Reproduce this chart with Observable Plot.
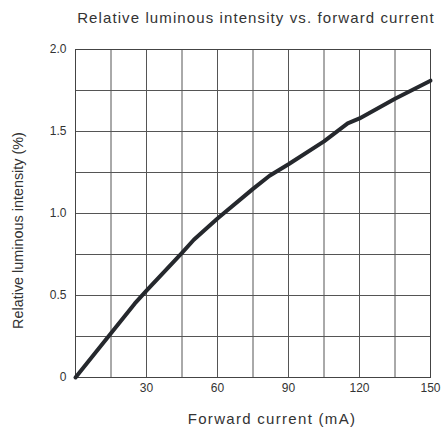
<!DOCTYPE html>
<html>
<head>
<meta charset="utf-8">
<script src="https://cdn.jsdelivr.net/npm/d3@7"></script>
<script src="https://cdn.jsdelivr.net/npm/@observablehq/plot@0.6"></script>
<style>
  html, body { margin: 0; padding: 0; background: #fff; }
  #chart svg { display: block; }
</style>
</head>
<body>
<div id="chart"></div>
<script>
const title = "Relative luminous intensity vs. forward current";
const xLabel = "Forward current (mA)";
const yLabel = "Relative luminous intensity (%)";

const current   = [0, 15, 25, 30, 45, 50, 60, 75, 82, 90, 105, 115, 120, 135, 150];
const intensity = [0, 0.27, 0.45, 0.53, 0.76, 0.84, 0.97, 1.15, 1.23, 1.30, 1.44, 1.55, 1.58, 1.70, 1.81];

const xTicks = [30, 60, 90, 120, 150];
const yTicks = [0, 0.5, 1.0, 1.5, 2.0];
const xGrid = [15, 30, 45, 60, 75, 90, 105, 120, 135];
const yGrid = [0.25, 0.5, 0.75, 1.0, 1.25, 1.5, 1.75];

const data = current.map((c, i) => ({current: c, intensity: intensity[i]}));

const chart = Plot.plot({
  width: 441,
  height: 430,
  marginLeft: 75,
  marginRight: 11,
  marginTop: 49,
  marginBottom: 53,
  style: {fontFamily: "'Liberation Sans', Arial, sans-serif", color: "#333", background: "#fff"},
  x: {domain: [0, 150]},
  y: {domain: [0, 2]},
  marks: [
    Plot.ruleX(xGrid, {stroke: "#555", strokeWidth: 1}),
    Plot.ruleY(yGrid, {stroke: "#555", strokeWidth: 1}),
    Plot.frame({stroke: "#444", strokeWidth: 1}),
    Plot.axisX({ticks: xTicks, tickSize: 0, tickPadding: 6, fontSize: 12,
      label: xLabel, labelAnchor: "center", labelArrow: "none", labelOffset: 46}),
    Plot.axisY({ticks: yTicks, tickSize: 0, tickPadding: 9, fontSize: 12,
      tickFormat: d => d === 0 ? "0" : d.toFixed(1),
      label: yLabel, labelAnchor: "center", labelArrow: "none", labelOffset: 63}),
    Plot.line(data, {x: "current", y: "intensity", stroke: "#25282d", strokeWidth: 4}),
    Plot.text([title], {frameAnchor: "top", dy: -37, dx: 3, fontSize: 15, fill: "#333"})
  ]
});
chart.querySelectorAll("g[aria-label='x-axis label'] text").forEach(t => {
  t.setAttribute("font-size", 15);
  t.setAttribute("dx", 19);
  t.style.letterSpacing = "1.3px";
});
chart.querySelectorAll("g[aria-label='y-axis label'] text").forEach(t => {
  t.setAttribute("font-size", 14.4);
  t.setAttribute("dx", -17);
});
chart.querySelectorAll("g[aria-label='text'] text").forEach(t => {
  t.style.letterSpacing = "1.1px";
});
document.getElementById("chart").appendChild(chart);
</script>
</body>
</html>
